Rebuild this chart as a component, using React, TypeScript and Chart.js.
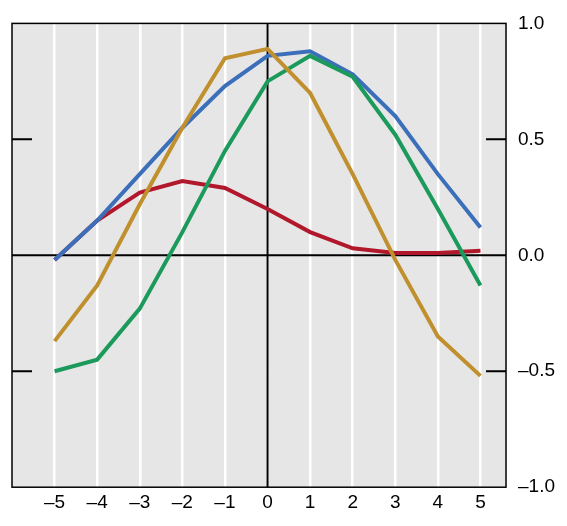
import React, { useRef, useEffect } from 'react';
import Chart from 'chart.js/auto';

const xs = [-5, -4, -3, -2, -1, 0, 1, 2, 3, 4, 5];
const blue = [-0.02, 0.15, 0.35, 0.55, 0.73, 0.86, 0.88, 0.78, 0.6, 0.35, 0.12];
const gold = [-0.37, -0.13, 0.22, 0.55, 0.85, 0.89, 0.7, 0.35, -0.02, -0.35, -0.52];
const green = [-0.5, -0.45, -0.23, 0.1, 0.45, 0.75, 0.86, 0.77, 0.52, 0.2, -0.13];
const red = [-0.02, 0.15, 0.27, 0.32, 0.29, 0.2, 0.1, 0.03, 0.01, 0.01, 0.02];

const toPts = (ys: number[]) => ys.map((y, i) => ({ x: xs[i], y }));
const fmt = (v: number) => (v < 0 ? '\u2013' : '') + Math.abs(v);

const decor = {
  id: 'decor',
  beforeDatasetsDraw(chart: any) {
    const { ctx, chartArea: a, scales } = chart;
    const x = scales.x, y = scales.y;
    ctx.save();
    ctx.strokeStyle = '#000';
    ctx.lineWidth = 2;
    ctx.beginPath();
    ctx.moveTo(a.left, y.getPixelForValue(0));
    ctx.lineTo(a.right, y.getPixelForValue(0));
    ctx.moveTo(x.getPixelForValue(0), a.top);
    ctx.lineTo(x.getPixelForValue(0), a.bottom);
    for (const v of [0.5, -0.5]) {
      const py = y.getPixelForValue(v);
      ctx.moveTo(a.left, py);
      ctx.lineTo(a.left + 20, py);
      ctx.moveTo(a.right - 20, py);
      ctx.lineTo(a.right, py);
    }
    ctx.stroke();
    ctx.lineWidth = 1.5;
    ctx.strokeRect(a.left, a.top, a.right - a.left, a.bottom - a.top);
    ctx.restore();
  },
  beforeDraw(chart: any) {
    const { ctx, chartArea: a } = chart;
    ctx.save();
    ctx.fillStyle = '#e6e6e6';
    ctx.fillRect(a.left, a.top, a.right - a.left, a.bottom - a.top);
    ctx.restore();
  },
};

const App: React.FC = () => {
  const canvasRef = useRef<HTMLCanvasElement | null>(null);
  useEffect(() => {
    if (!canvasRef.current) return;
    const ds = (data: number[], color: string) => ({
      data: toPts(data),
      borderColor: color,
      backgroundColor: color,
      borderWidth: 4,
      pointRadius: 0,
      tension: 0,
      fill: false,
    });
    const font = { family: 'Arial, Liberation Sans', size: 19 };
    const chart = new Chart(canvasRef.current, {
      type: 'line',
      data: {
        datasets: [
          ds(gold, '#c0902f'),
          ds(green, '#1c9a5c'),
          ds(blue, '#3c6fba'),
          ds(red, '#b2182b'),
        ],
      },
      options: {
        responsive: false,
        animation: false,
        plugins: { legend: { display: false }, tooltip: { enabled: false } },
        layout: { padding: { left: 4, top: 14, right: 0, bottom: 0 } },
        scales: {
          x: {
            type: 'linear',
            min: -6,
            max: 5.6,
            afterBuildTicks: (s: any) => { s.ticks = xs.map((v) => ({ value: v })); },
            ticks: { color: '#000', font, callback: (v: any) => fmt(Number(v)), maxRotation: 0, padding: 4 },
            grid: { color: '#fff', lineWidth: 2.5, drawTicks: false, drawOnChartArea: true },
            border: { display: false },
          },
          y: {
            position: 'right',
            min: -1,
            max: 1,
            afterBuildTicks: (s: any) => { s.ticks = [-1, -0.5, 0, 0.5, 1].map((v) => ({ value: v })); },
            ticks: { color: '#000', font, callback: (v: any) => fmt(Number(v)).replace(/^(\u2013?)(\d)$/, '$1$2.0'), padding: 4 },
            grid: { display: false },
            border: { display: false },
          },
        },
      },
      plugins: [decor],
    });
    return () => chart.destroy();
  }, []);
  return <canvas ref={canvasRef} width={551} height={510} />;
};

export default App;
